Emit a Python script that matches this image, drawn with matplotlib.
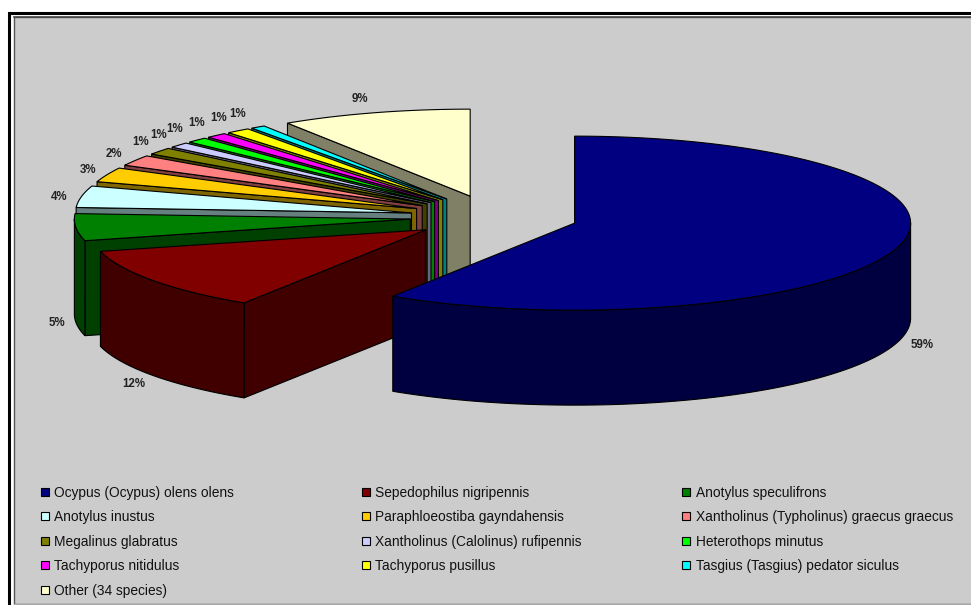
import numpy as np
import matplotlib
matplotlib.use('Agg')
import matplotlib.pyplot as plt
from matplotlib.patches import Polygon, Rectangle

plt.rcParams['font.family'] = ['Liberation Sans', 'DejaVu Sans']

species = ['Ocypus (Ocypus) olens olens', 'Sepedophilus nigripennis', 'Anotylus speculifrons',
           'Anotylus inustus', 'Paraphloeostiba gayndahensis', 'Xantholinus (Typholinus) graecus graecus',
           'Megalinus glabratus', 'Xantholinus (Calolinus) rufipennis', 'Heterothops minutus',
           'Tachyporus nitidulus', 'Tachyporus pusillus', 'Tasgius (Tasgius) pedator siculus',
           'Other (34 species)']
percent = [59.1, 11.9, 5.0, 4.0, 2.7, 2.0, 1.3, 1.0, 1.0, 1.0, 1.15, 0.7, 9.15]
colors = ['#000080', '#800000', '#008000', '#CCFFFF', '#FFCC00', '#FF8080', '#808000',
          '#CCCCFF', '#00FF00', '#FF00FF', '#FFFF00', '#00FFFF', '#FFFFCC']

# layout, in pixels of the 971x605 picture
cx, cy = 494, 217
rx, ry = 336, 87
depth = 95
explode = 0.25
label_xy = [(922, 345), (134, 384), (57, 323), (59, 197), (88, 170), (114, 154), (141, 142),
            (159, 135), (175, 129), (197, 123), (219, 118), (238, 114), (360, 99)]

fig = plt.figure(figsize=(9.71, 6.05), dpi=100)
ax = fig.add_axes([0, 0, 1, 1])
ax.set_xlim(0, 971)
ax.set_ylim(605, 0)
ax.axis('off')

# frame
ax.add_patch(Rectangle((9, 12.5), 980, 620, fc='white', ec='black', lw=2.2))
ax.add_patch(Rectangle((13.5, 16.5), 980, 587, fc='#CCCCCC', ec='#555555', lw=1))
ax.plot([13.5, 971], [16.5, 16.5], color='#444444', lw=1.2)
ax.plot([13.5, 971], [603.5, 603.5], color='#AAAAAA', lw=1)


def darker(c):
    return tuple(v / 2 for v in matplotlib.colors.to_rgb(c))


def arc(x0, y0, a0, a1):
    t = np.radians(np.linspace(a0, a1, max(int(abs(a1 - a0) * 2), 2)))
    return np.column_stack([x0 + rx * np.sin(t), y0 - ry * np.cos(t)])


fracs = np.array(percent) / sum(percent) * 360
starts = np.concatenate([[0], np.cumsum(fracs)[:-1]])

# back slices first, Other goes first and the big blue one last
for i in list(range(len(percent) - 1, -1, -1)):
    a0, a1 = starts[i], starts[i] + fracs[i]
    mid = np.radians((a0 + a1) / 2)
    x0 = cx + explode * rx * np.sin(mid)
    y0 = cy - explode * ry * np.cos(mid)
    dark = darker(colors[i])
    # radial wall at the start of the slice
    e = arc(x0, y0, a0, a0)[0]
    ax.add_patch(Polygon([(x0, y0), e, e + [0, depth], (x0, y0 + depth)], fc=dark, ec='black', lw=0.8))
    # outer wall, front half of the ellipse only
    w0, w1 = max(a0, 90), min(a1, 270)
    if w1 > w0:
        top = arc(x0, y0, w0, w1)
        ax.add_patch(Polygon(np.vstack([top, top[::-1] + [0, depth]]), fc=dark, ec='black', lw=0.8))
    ax.add_patch(Polygon(np.vstack([[(x0, y0)], arc(x0, y0, a0, a1)]), fc=colors[i], ec='black', lw=0.8))

for (x, y), p in zip(label_xy, percent):
    ax.text(x, y, f'{p:.0f}%', fontsize=8.3, fontweight='bold', ha='center', va='center', color='#222222')

# legend
col_x = [45, 366, 686]
row_y = [492, 516, 541, 565, 590]
for i, (name, c) in enumerate(zip(species, colors)):
    x, y = col_x[i % 3], row_y[i // 3]
    ax.add_patch(Rectangle((x - 4, y - 4), 8, 8, fc=c, ec='black', lw=0.8))
    ax.text(x + 9 + (1 if i % 3 == 2 else 0), y + 1, name, fontsize=9.9, ha='left', va='center', color='#111111')

fig.savefig('out.png', dpi=100)
